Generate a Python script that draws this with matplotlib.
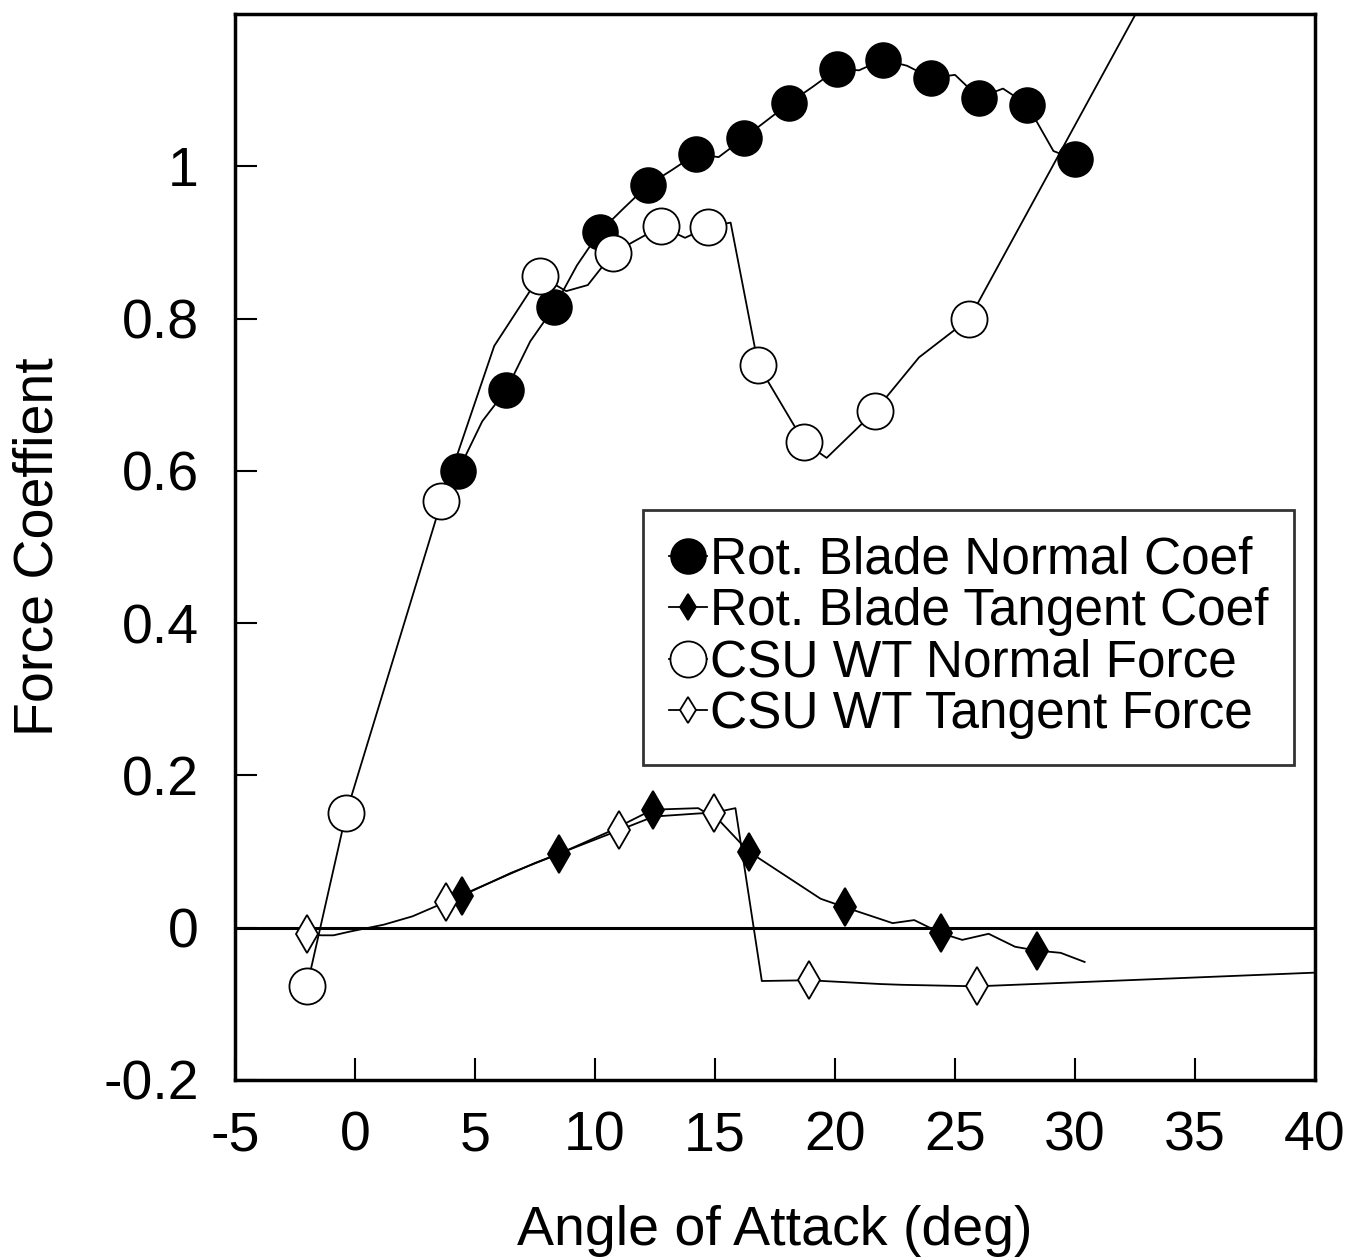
import numpy as np
import matplotlib
matplotlib.use("Agg")
import matplotlib.pyplot as plt

plt.rcParams['font.family'] = ['Liberation Sans', 'DejaVu Sans']

# Rot. Blade Normal Coef (markers on every other point)
rbn_aoa = [4.3, 5.3, 6.3, 7.3, 8.3, 9.25, 10.2, 11.2, 12.2, 13.2, 14.2, 15.15, 16.2,
           17.15, 18.1, 19.1, 20.1, 21.0, 22.0, 23.0, 24.0, 25.0, 26.0, 27.0, 28.0, 29.1, 30.0]
rbn_cn = [0.600, 0.665, 0.706, 0.770, 0.815, 0.870, 0.914, 0.945, 0.975, 0.995, 1.016, 1.012, 1.037,
          1.060, 1.083, 1.105, 1.128, 1.126, 1.140, 1.132, 1.116, 1.120, 1.090, 1.102, 1.081, 1.020, 1.009]

# Rot. Blade Tangent Coef
rbt_aoa = [4.45, 6.5, 8.5, 10.5, 12.4, 14.3, 15.2, 16.4, 19.4, 20.4, 22.4, 23.3,
           24.4, 25.3, 26.4, 27.5, 28.4, 29.4, 30.4]
rbt_ct = [0.042, 0.072, 0.097, 0.125, 0.155, 0.157, 0.140, 0.100, 0.038, 0.027, 0.006, 0.010,
          -0.007, -0.016, -0.008, -0.025, -0.030, -0.033, -0.045]
rbt_marks = [0, 2, 4, 7, 9, 12, 16]

# CSU WT Normal Force
csun_aoa = [-2.0, -0.37, 3.6, 5.8, 7.7, 8.8, 9.7, 10.75, 12.75, 13.75, 14.7, 15.65,
            16.8, 18.7, 19.65, 21.65, 23.5, 25.6, 34.0]
csun_cn = [-0.077, 0.150, 0.560, 0.764, 0.856, 0.836, 0.844, 0.886, 0.921, 0.906, 0.920, 0.926,
           0.739, 0.638, 0.617, 0.678, 0.749, 0.800, 1.285]
csun_marks = [0, 1, 2, 4, 7, 8, 10, 12, 13, 15, 17]

# CSU WT Tangent Force
csut_aoa = [-2.0, -1.4, -0.9, -0.2, 1.2, 2.4, 3.8, 7.5, 11.0, 12.45, 14.3, 14.95, 15.85,
            16.95, 18.9, 21.9, 22.8, 25.9, 40.0]
csut_ct = [-0.008, -0.010, -0.010, -0.005, 0.004, 0.015, 0.034, 0.085, 0.128, 0.146, 0.150, 0.151, 0.157,
           -0.070, -0.069, -0.074, -0.075, -0.077, -0.059]
csut_marks = [0, 6, 8, 11, 14, 17]

x_ticks = [-5, 0, 5, 10, 15, 20, 25, 30, 35, 40]
x_labels = ['-5', '0', '5', '10', '15', '20', '25', '30', '35', '40']
y_ticks = [-0.2, 0, 0.2, 0.4, 0.6, 0.8, 1.0]
y_labels = ['-0.2', '0', '0.2', '0.4', '0.6', '0.8', '1']

fig = plt.figure(figsize=(13.46, 12.58), dpi=100)
ax = fig.add_axes([0.1746, 0.1415, 0.8024, 0.8474])

line_kw = dict(color='black', lw=1.3, markeredgecolor='black', markeredgewidth=1.3)

ax.plot(rbn_aoa, rbn_cn, marker='o', ms=25, mfc='black', markevery=2,
        label='Rot. Blade Normal Coef', **line_kw)
ax.plot(rbt_aoa, rbt_ct, marker='d', ms=19, mfc='black', markevery=rbt_marks,
        label='Rot. Blade Tangent Coef', **line_kw)
ax.plot(csun_aoa, csun_cn, marker='o', ms=26, mfc='white', markevery=csun_marks,
        label='CSU WT Normal Force', **line_kw)
ax.plot(csut_aoa, csut_ct, marker='d', ms=19, mfc='white', markevery=csut_marks,
        label='CSU WT Tangent Force', **line_kw)

ax.axhline(0, color='black', lw=2.2, zorder=1)

ax.set_xlim(-5, 40)
ax.set_ylim(-0.2, 1.2)
ax.set_xticks(x_ticks)
ax.set_xticklabels(x_labels)
ax.set_yticks(y_ticks)
ax.set_yticklabels(y_labels)
ax.tick_params(direction='in', length=16, width=1.5, labelsize=40)
ax.tick_params(axis='x', pad=22)
ax.tick_params(axis='y', pad=26)
for s in ax.spines.values():
    s.set_linewidth(2.5)

ax.set_xlabel('Angle of Attack (deg)', fontsize=40)
ax.set_ylabel('Force Coeffient', fontsize=40)
ax.xaxis.set_label_coords(0.5, -0.117)
ax.yaxis.set_label_coords(-0.158, 0.5)

leg = ax.legend(loc='upper left', bbox_to_anchor=(0.378, 0.5347), borderaxespad=0,
                fontsize=37, handlelength=0.75, handletextpad=0.05, labelspacing=0.05,
                borderpad=0.5, frameon=True, fancybox=False)
leg.get_frame().set_edgecolor('black')
leg.get_frame().set_linewidth(2.0)
# legend diamonds are drawn smaller than in the plot
for h in leg.legend_handles[1::2]:
    h.set_markersize(13)

fig.savefig('out.png', dpi=100)
